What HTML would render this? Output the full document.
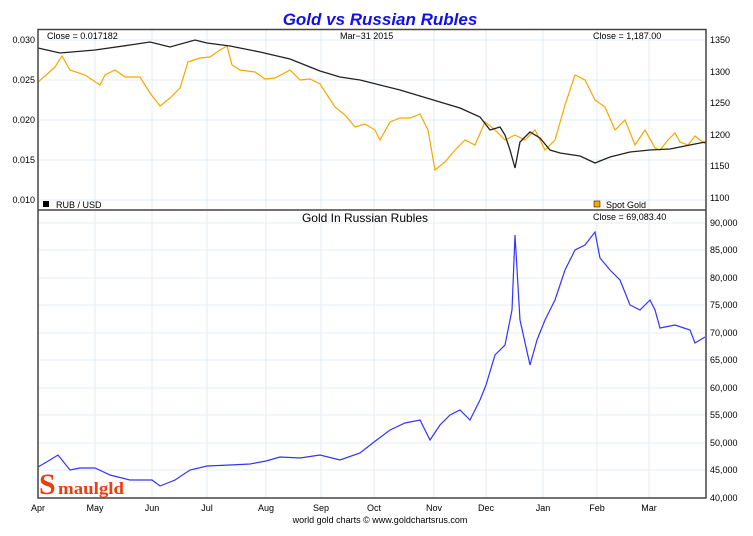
<!DOCTYPE html>
<html><head><meta charset="utf-8"><style>
body{margin:0;background:#fff;}
svg{display:block;font-family:"Liberation Sans",sans-serif;}
</style></head><body>
<svg width="753" height="536" viewBox="0 0 753 536">
<rect width="753" height="536" fill="#fff"/>
<text x="380" y="25" text-anchor="middle" font-size="17" font-weight="bold" font-style="italic" fill="#1010ee">Gold vs Russian Rubles</text>
<g stroke="#e3eef7" stroke-width="1">
<line x1="95" y1="30" x2="95" y2="498"/><line x1="152" y1="30" x2="152" y2="498"/><line x1="207" y1="30" x2="207" y2="498"/><line x1="266" y1="30" x2="266" y2="498"/><line x1="321" y1="30" x2="321" y2="498"/><line x1="374" y1="30" x2="374" y2="498"/><line x1="434" y1="30" x2="434" y2="498"/><line x1="486" y1="30" x2="486" y2="498"/><line x1="543" y1="30" x2="543" y2="498"/><line x1="597" y1="30" x2="597" y2="498"/><line x1="649" y1="30" x2="649" y2="498"/>
<line x1="38" y1="40" x2="706" y2="40"/><line x1="38" y1="80" x2="706" y2="80"/><line x1="38" y1="120" x2="706" y2="120"/><line x1="38" y1="160" x2="706" y2="160"/><line x1="38" y1="200" x2="706" y2="200"/>
<line x1="38" y1="223" x2="706" y2="223"/><line x1="38" y1="250" x2="706" y2="250"/><line x1="38" y1="278" x2="706" y2="278"/><line x1="38" y1="305" x2="706" y2="305"/><line x1="38" y1="333" x2="706" y2="333"/><line x1="38" y1="360" x2="706" y2="360"/><line x1="38" y1="388" x2="706" y2="388"/><line x1="38" y1="415" x2="706" y2="415"/><line x1="38" y1="443" x2="706" y2="443"/><line x1="38" y1="470" x2="706" y2="470"/>
</g>
<polyline fill="none" stroke="#f5a800" stroke-width="1.2" points="38,82 45,76 55,67 62,56 70,70 85,75 100,85 105,75 115,70 125,77 140,77 150,93 160,106 170,98 180,88 188,62 200,58 210,57 220,50 227,46 232,65 240,70 255,72 265,79 275,78 290,70 300,80 310,79 320,84 335,107 345,115 355,127 365,124 375,130 380,140 390,122 400,118 410,118 420,114 428,130 435,170 445,162 455,150 465,140 475,145 485,122 495,130 505,140 515,135 525,140 535,130 545,150 555,140 565,105 575,75 585,80 595,100 605,107 615,130 625,120 635,145 645,130 655,148 660,150 668,140 675,133 680,142 688,145 695,136 700,140 706,144"/>
<polyline fill="none" stroke="#222" stroke-width="1.3" points="38,48 60,53 95,50 130,45 150,42 170,47 195,40 207,43 230,46 260,52 290,59 320,71 340,77 360,80 380,85 400,90 420,96 440,102 460,108 480,117 490,130 500,127 505,135 510,150 515,168 520,142 530,132 540,138 550,150 560,153 580,156 595,163 610,157 630,152 650,150 670,149 690,145 700,143 706,142"/>
<polyline fill="none" stroke="#3333ff" stroke-width="1.2" points="38,467 50,460 58,455 70,470 80,468 95,468 110,475 130,480 152,480 160,486 175,480 190,470 207,466 230,465 250,464 266,461 280,457 300,458 320,455 340,460 360,453 374,442 390,430 405,423 420,420 430,440 440,425 450,415 460,410 470,420 480,400 486,385 495,355 505,345 512,310 515,235 520,320 530,365 537,340 545,320 555,300 565,270 575,250 585,245 595,232 600,258 610,270 620,280 630,305 640,310 650,300 655,310 660,328 675,325 690,330 695,343 700,340 705,337"/>
<rect x="38" y="29.5" width="668" height="468.5" fill="none" stroke="#444" stroke-width="1.5"/>
<line x1="38" y1="210" x2="706" y2="210" stroke="#444" stroke-width="1.5"/>
<g font-size="9" fill="#000">
<text x="47" y="39">Close = 0.017182</text>
<text x="340" y="39">Mar−31  2015</text>
<text x="593" y="39">Close = 1,187.00</text>
<rect x="43" y="201" width="6" height="6" fill="#000"/><text x="56" y="208">RUB / USD</text>
<rect x="594" y="201" width="6" height="6" fill="#f5a800" stroke="#000" stroke-width="0.5"/><text x="606" y="208">Spot Gold</text>
<text x="593" y="220">Close = 69,083.40</text>
</g>
<text x="365" y="222" text-anchor="middle" font-size="12">Gold In Russian Rubles</text>
<g font-size="9" text-anchor="end">
<text x="35" y="43">0.030</text><text x="35" y="83">0.025</text><text x="35" y="123">0.020</text><text x="35" y="163">0.015</text><text x="35" y="203">0.010</text>
</g>
<g font-size="9">
<text x="710" y="43">1350</text><text x="710" y="75">1300</text><text x="710" y="106">1250</text><text x="710" y="138">1200</text><text x="710" y="169">1150</text><text x="710" y="201">1100</text>
<text x="710" y="226">90,000</text><text x="710" y="253">85,000</text><text x="710" y="281">80,000</text><text x="710" y="308">75,000</text><text x="710" y="336">70,000</text><text x="710" y="363">65,000</text><text x="710" y="391">60,000</text><text x="710" y="418">55,000</text><text x="710" y="446">50,000</text><text x="710" y="473">45,000</text><text x="710" y="501">40,000</text>
</g>
<g font-size="9" text-anchor="middle">
<text x="38" y="511">Apr</text><text x="95" y="511">May</text><text x="152" y="511">Jun</text><text x="207" y="511">Jul</text><text x="266" y="511">Aug</text><text x="321" y="511">Sep</text><text x="374" y="511">Oct</text><text x="434" y="511">Nov</text><text x="486" y="511">Dec</text><text x="543" y="511">Jan</text><text x="597" y="511">Feb</text><text x="649" y="511">Mar</text>
<text x="380" y="523">world gold charts © www.goldchartsrus.com</text>
</g>
<text x="39" y="494" font-family="Liberation Serif,serif" font-weight="bold" font-size="30" fill="#e8400c">S</text>
<text x="58" y="494" font-family="Liberation Serif,serif" font-weight="bold" font-size="17" fill="#e8400c" textLength="66" lengthAdjust="spacingAndGlyphs">maulgld</text>
</svg>
</body></html>
